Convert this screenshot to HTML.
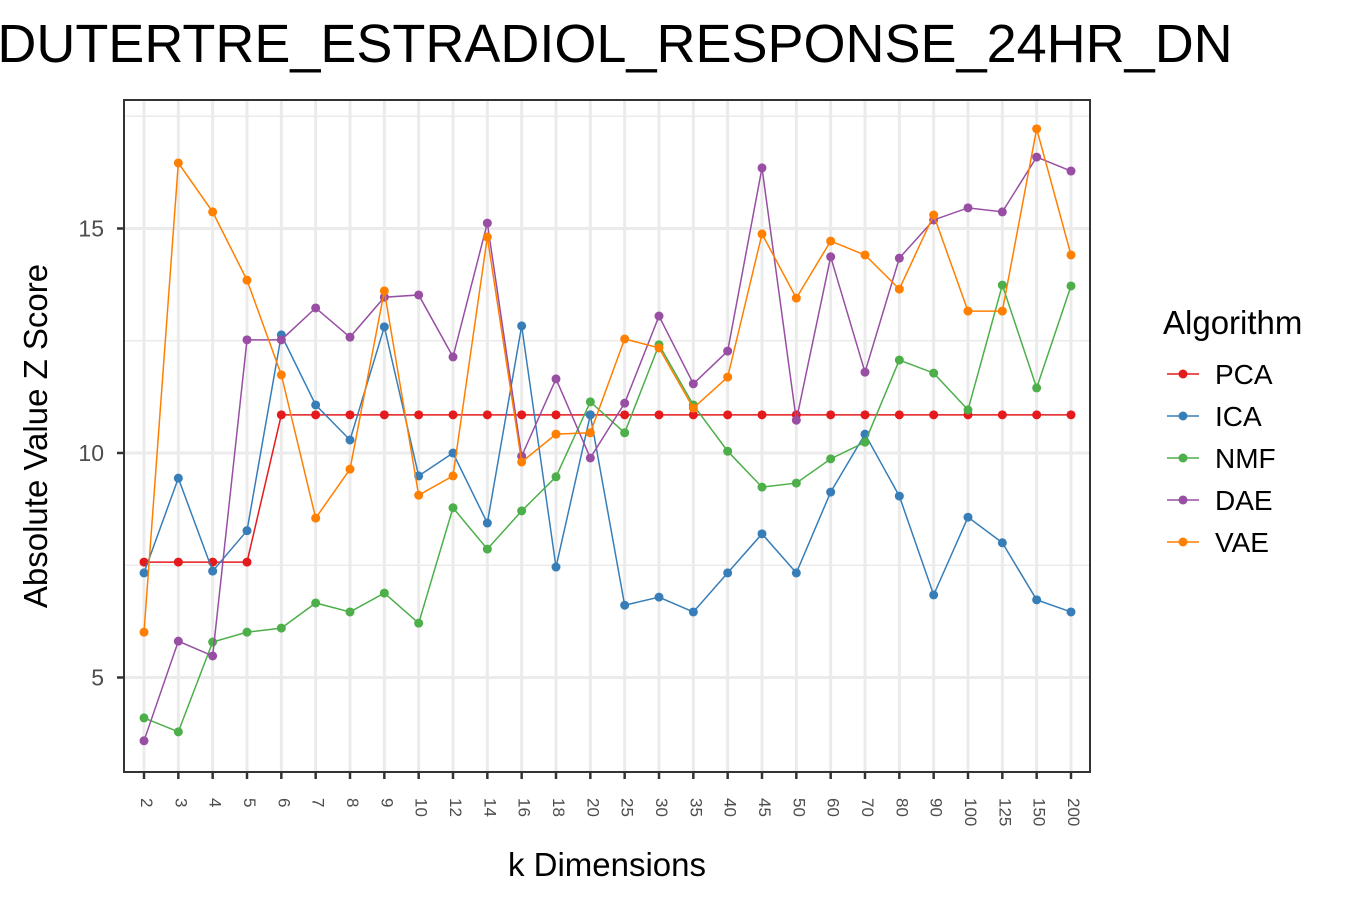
<!DOCTYPE html>
<html><head><meta charset="utf-8"><style>
body{margin:0;background:#fff;}
svg text{font-family:"Liberation Sans",Arial,sans-serif;}
</style></head><body>
<svg id="chart" width="1350" height="900" xmlns="http://www.w3.org/2000/svg">
<text x="615" y="62" font-size="54" text-anchor="middle" fill="#000">DUTERTRE_ESTRADIOL_RESPONSE_24HR_DN</text>
<g id="grid"></g><g id="series"></g><g id="axes"></g><g id="legend"></g>
<text x="607" y="876" font-size="33" text-anchor="middle" fill="#000">k Dimensions</text>
<text transform="translate(47,436) rotate(-90)" font-size="33" text-anchor="middle" fill="#000">Absolute Value Z Score</text>
</svg>
<script>
const categories=[2,3,4,5,6,7,8,9,10,12,14,16,18,20,25,30,35,40,45,50,60,70,80,90,100,125,150,200];
const seriesNames=["PCA","ICA","NMF","DAE","VAE"];
const seriesColors=["#e41a1c","#377eb8","#4daf4a","#984ea3","#ff7f00"];
const pca=[7.57,7.57,7.57,7.57,10.85,10.85,10.85,10.85,10.85,10.85,10.85,10.85,10.85,10.85,10.85,10.85,10.85,10.85,10.85,10.85,10.85,10.85,10.85,10.85,10.85,10.85,10.85,10.85];
const ica=[7.33,9.44,7.37,8.27,12.63,11.07,10.29,12.81,9.49,10.0,8.44,12.83,7.46,10.85,6.61,6.79,6.46,7.33,8.2,7.33,9.13,10.42,9.04,6.84,8.57,8.0,6.73,6.46];
const nmf=[4.1,3.79,5.79,6.01,6.1,6.66,6.46,6.88,6.21,8.78,7.86,8.71,9.47,11.14,10.45,12.41,11.07,10.04,9.24,9.33,9.87,10.24,12.07,11.78,10.96,13.74,11.45,13.72];
const dae=[3.59,5.81,5.48,12.52,12.52,13.23,12.58,13.47,13.52,12.14,15.12,9.93,11.65,9.89,11.11,13.05,11.54,12.27,16.35,10.73,14.37,11.8,14.34,15.19,15.46,15.37,16.59,16.28];
const vae=[6.01,16.46,15.37,13.85,11.74,8.55,9.64,13.61,9.06,9.49,14.81,9.8,10.42,10.45,12.54,12.34,11.0,11.69,14.88,13.45,14.72,14.41,13.65,15.3,13.16,13.16,17.22,14.41];
const yTicks=[5,10,15];
const yMinor=[7.5,12.5,17.5];
const NS="http://www.w3.org/2000/svg";
const L=124,R=1090,T=100,B=772;
const x=i=>144+i*(1071-144)/(categories.length-1);
const y=v=>453-(v-10)*44.9;
function mk(tag,attrs,parent){const e=document.createElementNS(NS,tag);for(const k in attrs)e.setAttribute(k,attrs[k]);parent.appendChild(e);return e;}
const grid=document.getElementById('grid'),axes=document.getElementById('axes'),ser=document.getElementById('series'),leg=document.getElementById('legend');
yMinor.forEach(v=>{const l=mk('line',{x1:L,x2:R,y1:y(v),y2:y(v),stroke:'#ebebeb','stroke-width':1.5},grid);

});
yTicks.forEach(v=>{const l=mk('line',{x1:L,x2:R,y1:y(v),y2:y(v),stroke:'#ebebeb','stroke-width':3},grid);


const t=mk('line',{x1:L-7,x2:L,y1:y(v),y2:y(v),stroke:'#333','stroke-width':2.5},axes);


const tx=mk('text',{x:L-20,y:y(v)+8,'font-size':23,'text-anchor':'end',fill:'#4d4d4d'},axes);tx.textContent=v;

});
categories.forEach((c,i)=>{const l=mk('line',{x1:x(i),x2:x(i),y1:T,y2:B,stroke:'#ebebeb','stroke-width':3},grid);


const t=mk('line',{x1:x(i),x2:x(i),y1:B,y2:B+7,stroke:'#333','stroke-width':2.5},axes);


const tx=mk('text',{transform:`translate(${x(i)-3},798) rotate(90)`,'font-size':17,'text-anchor':'start',fill:'#4d4d4d'},axes);tx.textContent=c;

});
const frame=mk('rect',{x:L,y:T,width:R-L,height:B-T,fill:'none',stroke:'#333','stroke-width':2},axes);


const allData=[pca,ica,nmf,dae,vae];
allData.forEach((d,s)=>{const g=mk('g',{},ser);


const pl=mk('polyline',{points:d.map((v,i)=>x(i)+','+y(v)).join(' '),fill:'none',stroke:seriesColors[s],'stroke-width':1.5},g);


d.forEach((v,i)=>{const c=mk('circle',{cx:x(i),cy:y(v),r:4.5,fill:seriesColors[s]},g);

});});
const lt=mk('text',{x:1163,y:334,'font-size':33,fill:'#000'},leg);lt.textContent='Algorithm';


seriesNames.forEach((n,s)=>{const yy=374+s*42;const g=mk('g',{},leg);


mk('line',{x1:1167,x2:1199,y1:yy,y2:yy,stroke:seriesColors[s],'stroke-width':1.5},g);
mk('circle',{cx:1183,cy:yy,r:4.5,fill:seriesColors[s]},g);
const t=mk('text',{x:1215,y:yy+10,'font-size':28,fill:'#000'},g);t.textContent=n;});
</script>
</body></html>
